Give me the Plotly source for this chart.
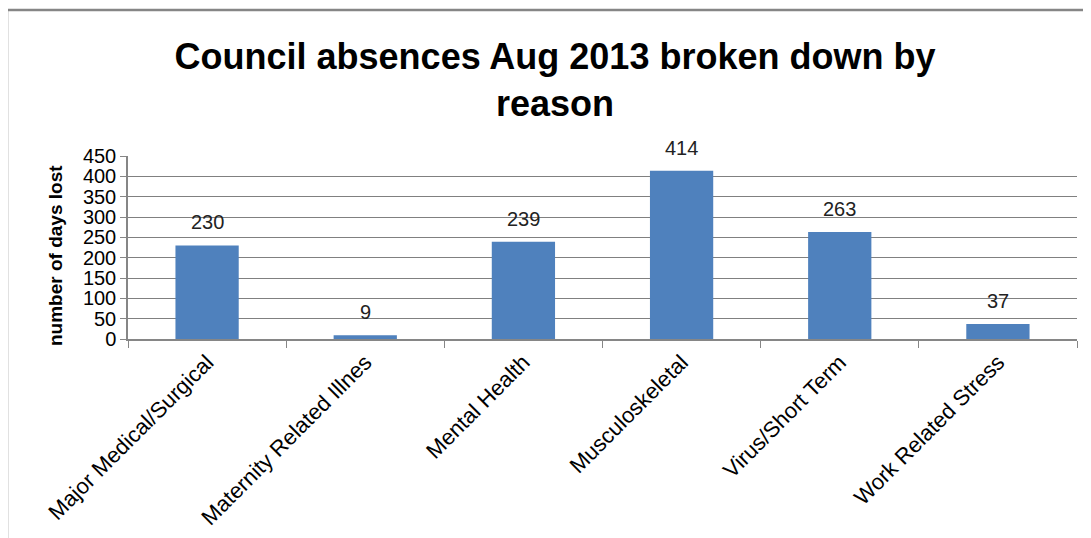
import plotly.graph_objects as go

categories = ["Major Medical/Surgical", "Maternity Related Illnes", "Mental Health",
              "Musculoskeletal", "Virus/Short Term", "Work Related Stress"]
days_lost = [230, 9, 239, 414, 263, 37]
y_ticks = [0, 50, 100, 150, 200, 250, 300, 350, 400, 450]

W, H = 1091, 538
OFF = 8  # page body margin
L, T = 128 - OFF, 156 - OFF
R = W - (1077 - OFF)
B = H - (339 - OFF)
pw = W - L - R
ph = H - T - B


def px_x(x):
    return (x - OFF - L) / pw


def px_y(y):
    return (H - B - (y - OFF)) / ph


fig = go.Figure()
fig.add_trace(go.Bar(x=categories, y=days_lost, marker=dict(color="#4F81BD", line=dict(width=0)),
                     width=0.4, hoverinfo="x+y"))

for c, v in zip(categories, days_lost):
    fig.add_annotation(x=c, y=v, text=str(v), showarrow=False, yanchor="bottom",
                       yshift=10, font=dict(family="Liberation Sans, Arial", size=20, color="#222"))

fig.add_annotation(xref="paper", yref="paper", x=px_x(55), y=px_y(256),
                   xanchor="center", yanchor="middle",
                   text="<b>number of days lost</b>", textangle=-90, showarrow=False,
                   font=dict(family="Liberation Sans, Arial", size=19, color="#000"))

# chart border (top and left)
fig.add_shape(type="line", xref="paper", yref="paper",
              x0=px_x(7), x1=px_x(W + 20), y0=px_y(10), y1=px_y(10),
              line=dict(color="#868686", width=2.5))
fig.add_shape(type="line", xref="paper", yref="paper",
              x0=px_x(7), x1=px_x(7), y0=px_y(10), y1=px_y(H + 20),
              line=dict(color="#868686", width=2.5))

fig.update_layout(
    width=W, height=H,
    margin=dict(l=L, r=R, t=T, b=B),
    paper_bgcolor="white", plot_bgcolor="white",
    showlegend=False,
    title=dict(text="<b>Council absences Aug 2013 broken down by<br>reason</b>",
               x=(555 - OFF) / W, xanchor="center", xref="container",
               y=1 - (69 - OFF) / H, yanchor="middle", yref="container",
               font=dict(family="Liberation Sans, Arial", size=36, color="#000")),
    xaxis=dict(type="category", tickangle=-45, tickson="boundaries", ticks="outside",
               ticklen=7, tickcolor="#868686", showline=True, linecolor="#868686", linewidth=1.5,
               showgrid=False,
               tickfont=dict(family="Liberation Sans, Arial", size=22, color="#000")),
    yaxis=dict(range=[0, 450], tickvals=y_ticks, ticks="outside", ticklen=6, tickcolor="#868686",
               showline=True, linecolor="#868686", linewidth=1.5,
               showgrid=True, gridcolor="#808080", gridwidth=1, zeroline=False,
               tickfont=dict(family="Liberation Sans, Arial", size=20, color="#000")),
    font=dict(family="Liberation Sans, Arial"),
)

fig.write_html("out.html")
